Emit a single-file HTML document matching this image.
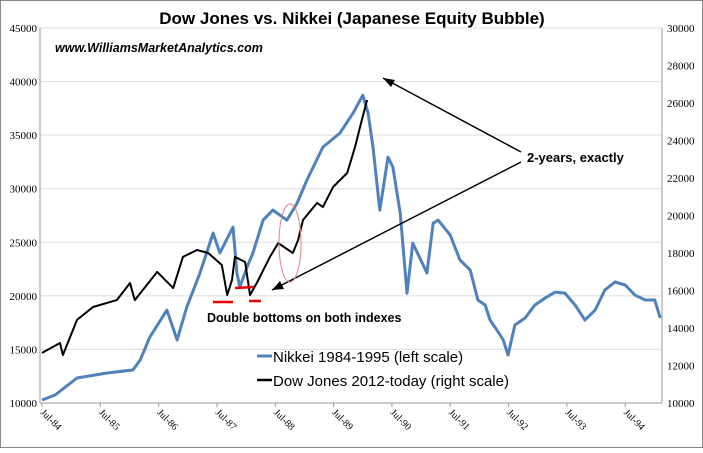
<!DOCTYPE html>
<html><head><meta charset="utf-8"><style>
body{margin:0;background:#fff}
svg text{font-family:"Liberation Serif",serif}
</style></head><body>
<svg id="chart" width="703" height="448" xmlns="http://www.w3.org/2000/svg">
<rect x="0.5" y="0.5" width="702" height="447" fill="#fff" stroke="#888"/>
<text x="352" y="24" text-anchor="middle" style="font-family:'Liberation Sans',sans-serif;font-weight:bold;font-size:17px">Dow Jones vs. Nikkei (Japanese Equity Bubble)</text>
<g id="grid"></g>
<g id="axes"></g>
<g id="series"></g>
<g>
<text x="55" y="52" style="font-family:'Liberation Sans',sans-serif;font-weight:bold;font-style:italic;font-size:12.5px">www.WilliamsMarketAnalytics.com</text>
<text x="527" y="162" style="font-family:'Liberation Sans',sans-serif;font-weight:bold;font-size:13px">2-years, exactly</text>
<line x1="521" y1="152" x2="383" y2="78" stroke="#000" stroke-width="1.5"/>
<polygon points="383,78 395,80 391,87" fill="#000"/>
<line x1="521" y1="162" x2="272" y2="290" stroke="#000" stroke-width="1.5"/>
<polygon points="272,290 280,281 284,289" fill="#000"/>
<ellipse cx="290" cy="243" rx="11" ry="39" fill="none" stroke="#e08080" stroke-width="1"/>
<line x1="213" y1="302" x2="233" y2="302" stroke="#e00" stroke-width="2.5"/>
<line x1="235" y1="288" x2="254" y2="287" stroke="#e00" stroke-width="2.5"/>
<line x1="249" y1="301" x2="261" y2="301" stroke="#e00" stroke-width="2.5"/>
<text x="207" y="322" style="font-family:'Liberation Sans',sans-serif;font-weight:bold;font-size:12.5px">Double bottoms on both indexes</text>
</g>
<g>
<line x1="257" y1="356" x2="272" y2="356" stroke="#4f81bd" stroke-width="3"/>
<text x="273" y="362" style="font-family:'Liberation Sans',sans-serif;font-size:15px">Nikkei 1984-1995 (left scale)</text>
<line x1="257" y1="380" x2="272" y2="380" stroke="#000" stroke-width="2.5"/>
<text x="273" y="386" style="font-family:'Liberation Sans',sans-serif;font-size:15px">Dow Jones 2012-today (right scale)</text>
</g>
</svg>
<script>
const xTickLabels=["Jul-84","Jul-85","Jul-86","Jul-87","Jul-88","Jul-89","Jul-90","Jul-91","Jul-92","Jul-93","Jul-94"];
const leftTicks=[10000,15000,20000,25000,30000,35000,40000,45000];
const rightTicks=[10000,12000,14000,16000,18000,20000,22000,24000,26000,28000,30000];
const nikkeiMonths=[0,2.7,7.2,13.4,18.7,20.2,22.2,25.7,27.8,29.8,32.5,35.2,36.6,39.3,40.1,40.7,42.2,43.4,45.5,47.5,50.4,52.5,54.5,57.8,61.3,64,66,67.1,68.1,69.5,71.2,72.2,73.7,75.1,76.3,79.2,80.5,81.5,84,86,88.1,89.7,91.2,92.2,93.6,94.9,95.9,97.3,99.4,101.4,103.5,105.6,107.6,109.7,111.7,113.8,115.8,117.9,120,122,124.1,126.1,127.2];
const nikkeiValues=[10280,10750,12330,12800,13080,14010,16160,18670,15880,18950,22130,25860,24000,26420,22130,20820,22690,23990,27070,28000,27070,28660,30800,33880,35190,37050,38730,37050,33880,28000,32950,32010,27720,20260,24920,22130,26790,27070,25670,23340,22410,19610,19140,17740,16810,15880,14480,17280,17930,19140,19790,20350,20260,19140,17740,18670,20540,21290,21010,20070,19610,19610,17930];
const dowMonths=[0,3.7,4.3,7.2,10.5,15.4,18.1,19.1,23.7,27,29,31.9,34.2,37,38.1,39.1,39.7,41.8,42.8,44.2,46.9,48.6,51.6,52.7,53.7,56.6,57.8,59.9,62.8,64.4,65.8,66.9];
const dowValues=[12670,13200,12560,14430,15120,15490,16400,15490,16990,16130,17790,18160,18000,17360,15760,16560,17790,17520,15760,16400,17790,18530,18000,18690,19760,20670,20450,21520,22270,23650,25090,26160];

const NS="http://www.w3.org/2000/svg";
const X0=42, PX_PER_MONTH=4.86, PL=40, PR=662, PT=28, PB=403;
const xScale=m=>X0+m*PX_PER_MONTH;
const yLeft=v=>PB-(v-10000)/35000*(PB-PT);
const yRight=v=>PB-(v-10000)/20000*(PB-PT);
function mk(tag,attrs,parent){const e=document.createElementNS(NS,tag);for(const k in attrs)e.setAttribute(k,attrs[k]);parent.appendChild(e);return e;}
const grid=document.getElementById('grid'),axes=document.getElementById('axes'),series=document.getElementById('series');
leftTicks.forEach(v=>{
  const y=yLeft(v);
  const l=mk('line',{x1:PL,x2:PR,y1:y,y2:y,stroke:v===10000?'#999':'#dcdcdc','stroke-width':1},grid);
  
  
  const t=mk('text',{x:37,y:y+4,'text-anchor':'end','font-size':'11px'},axes);
  t.textContent=v;
  
  
});
rightTicks.forEach(v=>{
  const y=yRight(v);
  const t=mk('text',{x:667,y:y+4,'font-size':'11px'},axes);
  t.textContent=v;
  
  
});
const la=mk('line',{x1:PL,x2:PL,y1:PT,y2:PB,stroke:'#999'},axes);


const ra=mk('line',{x1:PR,x2:PR,y1:PT,y2:PB,stroke:'#999'},axes);


xTickLabels.forEach((s,i)=>{
  const x=xScale(i*12);
  const tk=mk('line',{x1:x,x2:x,y1:PB,y2:PB+4,stroke:'#999'},axes);
  
  
  const t=mk('text',{x:x-2,y:PB+10,'font-size':'10px',transform:`rotate(45 ${x-2} ${PB+10})`},axes);
  t.textContent=s;
  
  
});
const np=nikkeiMonths.map((m,i)=>xScale(m).toFixed(1)+','+yLeft(nikkeiValues[i]).toFixed(1)).join(' ');
const nl=mk('polyline',{points:np,fill:'none',stroke:'#4f81bd','stroke-width':3,'stroke-linejoin':'round'},series);


const dp=dowMonths.map((m,i)=>xScale(m).toFixed(1)+','+yRight(dowValues[i]).toFixed(1)).join(' ');
const dl=mk('polyline',{points:dp,fill:'none',stroke:'#000','stroke-width':2,'stroke-linejoin':'round'},series);


</script>
</body></html>
